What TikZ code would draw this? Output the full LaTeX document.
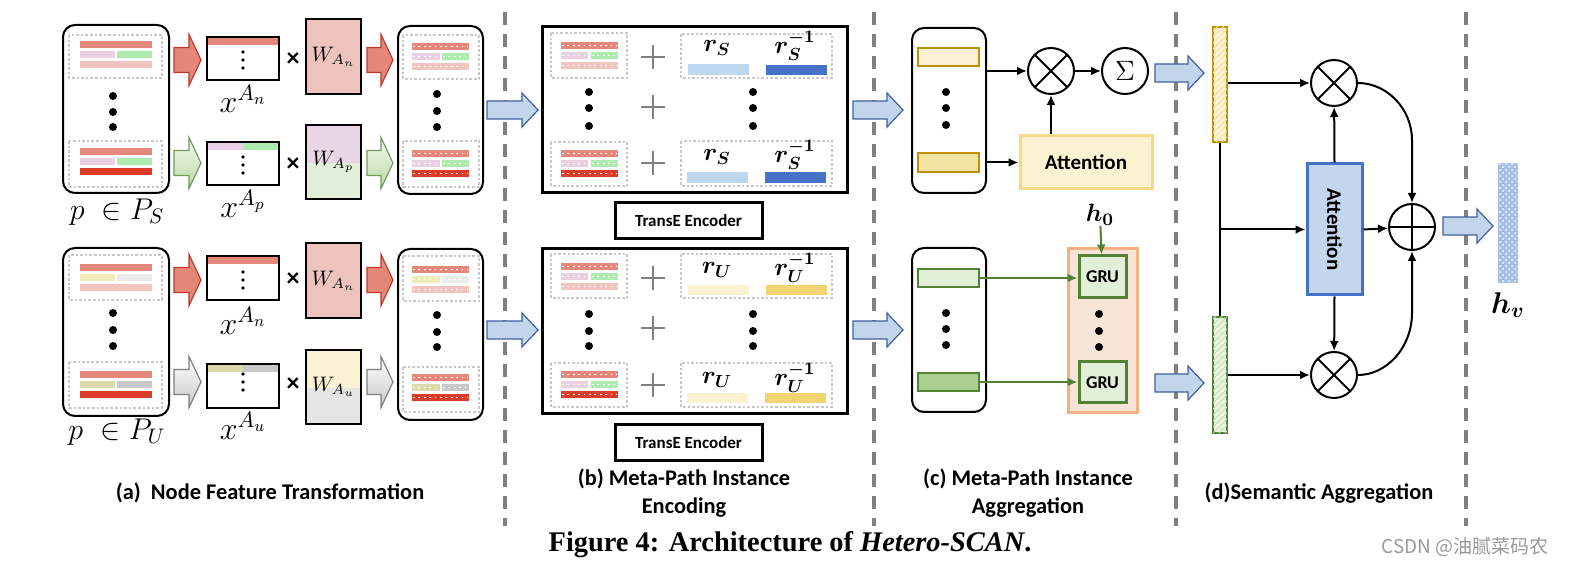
\RequirePackage{fix-cm}
\documentclass[tikz,border=0pt]{standalone}
\usepackage{amsmath}
\usepackage{bm}
\usepackage{fontspec}
\usetikzlibrary{arrows.meta,fit,patterns,calc}
\newfontfamily\calib{Carlito}
\newfontfamily\libser{Liberation Serif}
\newfontfamily\cjkf{Noto Sans CJK SC}
\definecolor{salmon}{HTML}{E4887C}
\definecolor{lpink}{HTML}{F1C4BF}
\definecolor{lav}{HTML}{EAD0E3}
\definecolor{lgreen}{HTML}{AEEBAE}
\definecolor{dred}{HTML}{DC3B28}
\definecolor{khaki}{HTML}{EEEDB9}
\definecolor{khakiB}{HTML}{DEDBAA}
\definecolor{lgray}{HTML}{EBEBEB}
\definecolor{mgray}{HTML}{C8C8C8}
\definecolor{wpink}{HTML}{EEC2BD}
\definecolor{wlav}{HTML}{E8D6E4}
\definecolor{wgreen}{HTML}{E2EED9}
\definecolor{wyel}{HTML}{FAF2D2}
\definecolor{wgray}{HTML}{E5E5E5}
\definecolor{rblueA}{HTML}{BDD7EE}
\definecolor{rblueB}{HTML}{4472C4}
\definecolor{ryA}{HTML}{FBF2D1}
\definecolor{ryB}{HTML}{F0D472}
\definecolor{gold}{HTML}{BF9000}
\definecolor{ybarA}{HTML}{FBF2D5}
\definecolor{ybarB}{HTML}{F2E4A3}
\definecolor{gbarA}{HTML}{E2EFD9}
\definecolor{gbarB}{HTML}{A9D08E}
\definecolor{ggreen}{HTML}{548235}
\definecolor{gruor}{HTML}{F4B183}
\definecolor{gruf}{HTML}{F8E5D7}
\definecolor{attf}{HTML}{FBF2D1}
\definecolor{attd}{HTML}{F5DC84}
\definecolor{attblue}{HTML}{C3D6EC}
\definecolor{arrblue}{HTML}{C2D5EB}
\definecolor{arrbd}{HTML}{41609E}
\definecolor{arrred}{HTML}{E3877B}
\definecolor{arrredd}{HTML}{C0392B}
\definecolor{divg}{HTML}{808080}
\definecolor{plusg}{HTML}{7F7F7F}
\definecolor{hvblue}{HTML}{A7BEE6}
\newcommand\sbar[5]{\fill[#5] (#1,#2) rectangle (#3,#4);}
\newcommand\dbar[5]{\fill[#5] (#1,#2) rectangle (#3,#4);
  \draw[dotline] (#1+1,{(#2+#4)/2}) -- (#3-1,{(#2+#4)/2});}
\newcommand\trio[9]{#1{#2}{#6}{#5}{#6+7}{salmon}#1{#2}{#6+10}{#3}{#6+17}{#7}#1{#4}{#6+10}{#5}{#6+17}{#8}#1{#2}{#6+20}{#5}{#6+27}{#9}}
\newcommand\threedots[4]{\fill (#1,#2) circle (4); \fill (#1,#3) circle (4); \fill (#1,#4) circle (4);}
\newcommand\smalldots[4]{\fill (#1,#2) circle (1.8); \fill (#1,#3) circle (1.8); \fill (#1,#4) circle (1.8);}
\newcommand\plusat[2]{\draw[plussign] (#1-12,#2) -- (#1+12,#2) (#1,#2-12) -- (#1,#2+12);}
\newcommand\barrow[7]{\path[#7] (#1,#3-#4) -- (#2-#6,#3-#4) -- (#2-#6,#3-#5) -- (#2,#3) -- (#2-#6,#3+#5) -- (#2-#6,#3+#4) -- (#1,#3+#4) -- cycle;}
\begin{document}
\begin{tikzpicture}[x=0.5pt,y=-0.5pt,
  every node/.append style={inner sep=0pt},
  rbox/.style={draw=black,line width=1pt,rounded corners=6pt},
  gdash/.style={draw=mgray,line width=1.3pt,dash pattern=on 1.3pt off 1pt},
  dotline/.style={white,line width=0.9pt,dash pattern=on 0.9pt off 1.8pt},
  xbox/.style={draw=black,line width=1pt},
  bigbox/.style={draw=black,line width=1.5pt},
  divline/.style={draw=divg,line width=1.6pt,dash pattern=on 6.5pt off 4.5pt},
  plussign/.style={draw=plusg,line width=1pt},
  conn/.style={-{Latex[length=5pt,width=4.5pt]},line width=1pt},
  garr/.style={conn,draw=ggreen,fill=ggreen},
  redarrow/.style={fill=arrred,draw=arrredd,line width=0.6pt},
  greenarrow/.style={top color=gbarA!40,bottom color=gbarB!80,draw=ggreen!80,line width=0.6pt},
  grayarrow/.style={top color=white,bottom color=mgray,draw=gray,line width=0.6pt},
  bluearrow/.style={fill=arrblue,draw=arrbd,line width=0.6pt},
  mathlab/.style={font=\fontsize{16}{16}\selectfont},
  plab/.style={font=\fontsize{15}{15}\selectfont},
  wlab/.style={font=\fontsize{10.5}{11}\selectfont},
  rlab/.style={font=\fontsize{12.5}{12.5}\selectfont},
  timesign/.style={font=\calib\bfseries\fontsize{13}{13}\selectfont},
  tlab/.style={font=\calib\bfseries\fontsize{8.5}{10}\selectfont},
  attlab/.style={font=\calib\bfseries\fontsize{10.5}{12}\selectfont},
  grulab/.style={font=\calib\bfseries\fontsize{9}{10}\selectfont},
  captxt/.style={font=\calib\bfseries\fontsize{11.2}{14}\selectfont,align=center},
  figcap/.style={font=\libser\bfseries\fontsize{14.2}{16}\selectfont},
  wmark/.style={font=\cjkf\fontsize{9.5}{11}\selectfont,text=gray!80},
  otimes/.style={circle,draw,line width=1pt,minimum size=23pt,fill=white,
    path picture={\draw[line width=1pt] (path picture bounding box.north west) -- (path picture bounding box.south east)
      (path picture bounding box.north east) -- (path picture bounding box.south west);}},
  oplus/.style={circle,draw,line width=1pt,minimum size=23pt,fill=white,
    path picture={\draw[line width=1pt] (path picture bounding box.north) -- (path picture bounding box.south)
      (path picture bounding box.west) -- (path picture bounding box.east);}},
  ybarsty/.style={draw=gold,line width=0.8pt},
  gbarsty/.style={draw=ggreen,line width=0.8pt},
  attC/.style={draw=attd,fill=attf,line width=1.5pt},
  attD/.style={draw=rblueB,fill=attblue,line width=1.5pt},
  gruC/.style={draw=gruor,fill=gruf,line width=1.5pt},
  gruB/.style={draw=ggreen,fill=gbarA,line width=1.5pt},
  hbarY/.style={draw=gold,fill=ybarA,line width=1pt,postaction={pattern=north east lines,pattern color=ryB!70}},
  hbarG/.style={draw=ggreen,fill=gbarA!70,line width=1pt,postaction={pattern=north east lines,pattern color=gbarB!70}},
  hvbar/.style={fill=hvblue,postaction={pattern=crosshatch dots,pattern color=white}}
]
\useasboundingbox (0,0) rectangle (1570,566);
\fill[white] (0,0) rectangle (1570,566);

% dividers
\draw[divline] (505,12) -- (505,526);
\draw[divline] (874,12) -- (874,526);
\draw[divline] (1176,12) -- (1176,526);
\draw[divline] (1466,12) -- (1466,526);

% ================= panel (a) top =================
\node[rbox,fit={(63,25)(169,193)}] (inS) {};
\draw[gdash] (69,35) rectangle (162,78);
\trio\sbar{80}{115}{117}{152}{41}{lav}{lgreen}{lpink}
\threedots{113}{96}{112}{127}
\draw[gdash] (69,141) rectangle (162,187);
\trio\sbar{80}{115}{117}{152}{148}{lav}{lgreen}{dred}
\node[plab] (pS) at (117,212) {$p\ \in P_S$};

\barrow{174}{201}{60}{12.5}{25.5}{12}{redarrow}
\barrow{174}{201}{163}{12.5}{25.5}{12}{greenarrow}

\fill[salmon] (207,37) rectangle (279,45);
\node[xbox,fit={(207,37)(279,80)}] (xn1) {};
\smalldots{243}{52}{60}{68}
\node[mathlab] (lxn1) at (243,99) {$x^{A_n}$};
\node[timesign] (tm1) at (293,60) {×};
\fill[wpink] (306,19) rectangle (361,94);
\node[xbox,fit={(306,19)(361,94)},label={[wlab]center:$W_{A_n}$}] (wn1) {};

\fill[lav] (207,142) rectangle (243,150);
\fill[lgreen] (243,142) rectangle (279,150);
\node[xbox,fit={(207,142)(279,185)}] (xp1) {};
\smalldots{243}{157}{165}{173}
\node[mathlab] (lxp1) at (243,204) {$x^{A_p}$};
\node[timesign] (tm2) at (293,165) {×};
\fill[wlav] (306,125) rectangle (361,163);
\fill[wgreen] (306,163) rectangle (361,199);
\node[xbox,fit={(306,125)(361,199)},label={[wlab]center:$W_{A_p}$}] (wp1) {};

\barrow{367}{393}{60}{12.5}{25.5}{12}{redarrow}
\barrow{367}{393}{163}{12.5}{25.5}{12}{greenarrow}

\node[rbox,fit={(398,26)(483,194)}] (outS) {};
\draw[gdash] (403,35) rectangle (479,79);
\trio\dbar{412}{440}{442}{469}{43}{lav}{lgreen}{lpink}
\threedots{437}{94}{111}{127}
\draw[gdash] (403,141) rectangle (479,187);
\trio\dbar{412}{440}{442}{469}{150}{lav}{lgreen}{dred}

% ================= panel (a) bottom =================
\node[rbox,fit={(63,248)(169,416)}] (inU) {};
\draw[gdash] (69,255) rectangle (162,300);
\trio\sbar{80}{115}{117}{152}{264}{khaki}{lgray}{lpink}
\threedots{113}{313}{330}{346}
\draw[gdash] (69,362) rectangle (162,408);
\trio\sbar{80}{115}{117}{152}{371}{khakiB}{mgray}{dred}
\node[plab] (pU) at (117,432) {$p\ \in P_U$};

\barrow{174}{201}{280}{12.5}{25.5}{12}{redarrow}
\barrow{174}{201}{382}{12.5}{25.5}{12}{grayarrow}

\fill[salmon] (207,256) rectangle (279,264);
\node[xbox,fit={(207,256)(279,300)}] (xn2) {};
\smalldots{243}{272}{280}{288}
\node[mathlab] (lxn2) at (243,321) {$x^{A_n}$};
\node[timesign] (tm3) at (293,280) {×};
\fill[wpink] (306,243) rectangle (361,318);
\node[xbox,fit={(306,243)(361,318)},label={[wlab]center:$W_{A_n}$}] (wn2) {};

\fill[khakiB] (207,364) rectangle (243,372);
\fill[mgray] (243,364) rectangle (279,372);
\node[xbox,fit={(207,364)(279,408)}] (xu2) {};
\smalldots{243}{374}{382}{390}
\node[mathlab] (lxu2) at (243,426) {$x^{A_u}$};
\node[timesign] (tm4) at (293,385) {×};
\fill[wyel] (306,350) rectangle (361,388);
\fill[wgray] (306,388) rectangle (361,424);
\node[xbox,fit={(306,350)(361,424)},label={[wlab]center:$W_{A_u}$}] (wu2) {};

\barrow{367}{393}{280}{12.5}{25.5}{12}{redarrow}
\barrow{367}{393}{382}{12.5}{25.5}{12}{grayarrow}

\node[rbox,fit={(398,249)(483,420)}] (outU) {};
\draw[gdash] (403,256) rectangle (479,301);
\trio\dbar{412}{440}{442}{469}{266}{khaki}{lgray}{lpink}
\threedots{437}{315}{332}{347}
\draw[gdash] (403,367) rectangle (479,412);
\trio\dbar{412}{440}{442}{469}{374}{khakiB}{mgray}{dred}

% blue arrows a->b
\barrow{487}{538}{110}{9}{17}{16}{bluearrow}
\barrow{487}{538}{330}{9}{17}{16}{bluearrow}

% ================= panel (b) top =================
\node[bigbox,fit={(542,27)(847,193)}] (encS) {};
\draw[gdash] (551,33) rectangle (627,78);
\trio\dbar{561}{588}{591}{618}{42}{lav}{lgreen}{lpink}
\draw[gdash] (551,142) rectangle (627,186);
\trio\dbar{561}{588}{591}{618}{150}{lav}{lgreen}{dred}
\threedots{589}{92}{108}{126}
\threedots{753}{92}{108}{126}
\plusat{653}{57}
\plusat{653}{107}
\plusat{653}{163}
\draw[gdash] (681,34) rectangle (832,78);
\fill[rblueA] (688,64) rectangle (749,75);
\fill[rblueB] (766,65) rectangle (827,75);
\node[rlab] (rs1) at (717,48) {$\bm{r_S}$};
\node[rlab] (rsi1) at (795,46) {$\bm{r_S^{-1}}$};
\draw[gdash] (681,141) rectangle (832,186);
\fill[rblueA] (687,172) rectangle (748,183);
\fill[rblueB] (765,172) rectangle (826,183);
\node[rlab] (rs2) at (717,157) {$\bm{r_S}$};
\node[rlab] (rsi2) at (795,155) {$\bm{r_S^{-1}}$};
\node[bigbox,fit={(615,203)(762,239)},label={[tlab]center:TransE Encoder}] (teS) {};

% ================= panel (b) bottom =================
\node[bigbox,fit={(542,249)(847,414)}] (encU) {};
\draw[gdash] (551,254) rectangle (627,298);
\trio\dbar{561}{588}{591}{618}{263}{lav}{lgreen}{lpink}
\draw[gdash] (551,363) rectangle (627,407);
\trio\dbar{561}{588}{591}{618}{371}{lav}{lgreen}{dred}
\threedots{589}{314}{331}{346}
\threedots{753}{314}{331}{346}
\plusat{653}{278}
\plusat{653}{328}
\plusat{653}{385}
\draw[gdash] (681,254) rectangle (832,298);
\fill[ryA] (688,285) rectangle (749,295);
\fill[ryB] (766,285) rectangle (827,295);
\node[rlab] (ru1) at (717,270) {$\bm{r_U}$};
\node[rlab] (rui1) at (795,268) {$\bm{r_U^{-1}}$};
\draw[gdash] (681,363) rectangle (832,407);
\fill[ryA] (687,393) rectangle (748,403);
\fill[ryB] (765,393) rectangle (826,403);
\node[rlab] (ru2) at (717,380) {$\bm{r_U}$};
\node[rlab] (rui2) at (795,378) {$\bm{r_U^{-1}}$};
\node[bigbox,fit={(615,425)(762,461)},label={[tlab]center:TransE Encoder}] (teU) {};

% blue arrows b->c
\barrow{853}{903}{110}{9}{17}{16}{bluearrow}
\barrow{853}{903}{330}{9}{17}{16}{bluearrow}

% ================= panel (c) top =================
\node[rbox,fit={(912,28)(986,193)}] (cS) {};
\node[ybarsty,fill=ybarA,fit={(918,48)(979,66)}] (cs1) {};
\node[ybarsty,fill=ybarB,fit={(918,153)(979,172)}] (cs2) {};
\threedots{946}{92}{108}{125}
\node[otimes] (ot1) at (1051,71) {};
\node[circle,draw,line width=1pt,minimum size=23pt,font=\fontsize{14}{14}\selectfont] (sg) at (1125,71) {$\Sigma$};
\node[attC,fit={(1020,136)(1152,189)},label={[attlab]center:Attention}] (att1) {};
\draw[conn] (cS.east |- ot1) -- (ot1);
\draw[conn] (ot1) -- (sg);
\draw[conn] (cS.east |- att1) -- (att1);
\draw[conn] (att1.north -| ot1) -- (ot1);

% ================= panel (c) bottom =================
\node[rbox,fit={(912,248)(986,412)}] (cU) {};
\node[gbarsty,fill=gbarA,fit={(918,269)(979,287)}] (cu1) {};
\node[gbarsty,fill=gbarB,fit={(918,373)(979,391)}] (cu2) {};
\threedots{946}{313}{329}{345}
\node[gruC,fit={(1068,249)(1137,413)}] (gruc) {};
\node[gruB,fit={(1079,256)(1126,298)},label={[grulab]center:GRU}] (gru1) {};
\node[gruB,fit={(1079,362)(1126,403)},label={[grulab]center:GRU}] (gru2) {};
\threedots{1099}{314}{331}{347}
\node[rlab] (h0) at (1100,215) {$\bm{h_0}$};
\draw[garr] (h0) -- (gru1);
\draw[garr] (cu1.east) -- (gru1.west |- cu1.east);
\draw[garr] (cu2.east) -- (gru2.west |- cu2.east);

% blue arrows c->d
\barrow{1155}{1204}{73}{9}{17}{16}{bluearrow}
\barrow{1155}{1204}{383}{9}{17}{16}{bluearrow}

% ================= panel (d) =================
\node[hbarY,fit={(1213,27)(1227,142)}] (tb) {};
\node[hbarG,fit={(1213,317)(1227,433)}] (bb) {};
\draw[line width=1pt] (tb.south) -- (bb.north);
\node[otimes] (ot2) at (1334,83) {};
\node[otimes] (ot3) at (1334,375) {};
\node[attD,fit={(1307,164)(1362,295)},label={[attlab,rotate=-90]center:Attention}] (att2) {};
\node[oplus] (op) at (1412,227) {};
\draw[conn] (tb.east |- ot2) -- (ot2);
\draw[conn] (bb.east |- ot3) -- (ot3);
\draw[conn] (tb.south |- att2) -- (att2);
\draw[conn] (att2.north) -- (ot2);
\draw[conn] (att2.south) -- (ot3);
\draw[conn] (att2.east) -- (op);
\draw[conn] (ot2.east) .. controls (1387,83) and (1412,109) .. (1412,140) -- (op.north);
\draw[conn] (ot3.east) .. controls (1387,375) and (1412,347) .. (1412,313) -- (op.south);

\barrow{1443}{1493}{226}{9}{17}{16}{bluearrow}
\node[hvbar,fit={(1498,163)(1518,283)}] (hv) {};
\node[font=\fontsize{15}{15}\selectfont] (hvl) at (1508,305) {$\bm{h_v}$};

% ================= captions =================
\node[captxt] (capa) at (270,493) {(a)\ \ Node Feature Transformation};
\node[captxt] (capb) at (684,493) {(b) Meta-Path Instance\\Encoding};
\node[captxt] (capc) at (1028,493) {(c) Meta-Path Instance\\Aggregation};
\node[captxt] (capd) at (1319,493) {(d)Semantic Aggregation};
\node[figcap] (fig) at (790,545) {Figure 4: Architecture of \textit{Hetero-SCAN}.};
\node[wmark] (wm) at (1465,547) {CSDN @油腻菜码农};
\end{tikzpicture}
\end{document}
